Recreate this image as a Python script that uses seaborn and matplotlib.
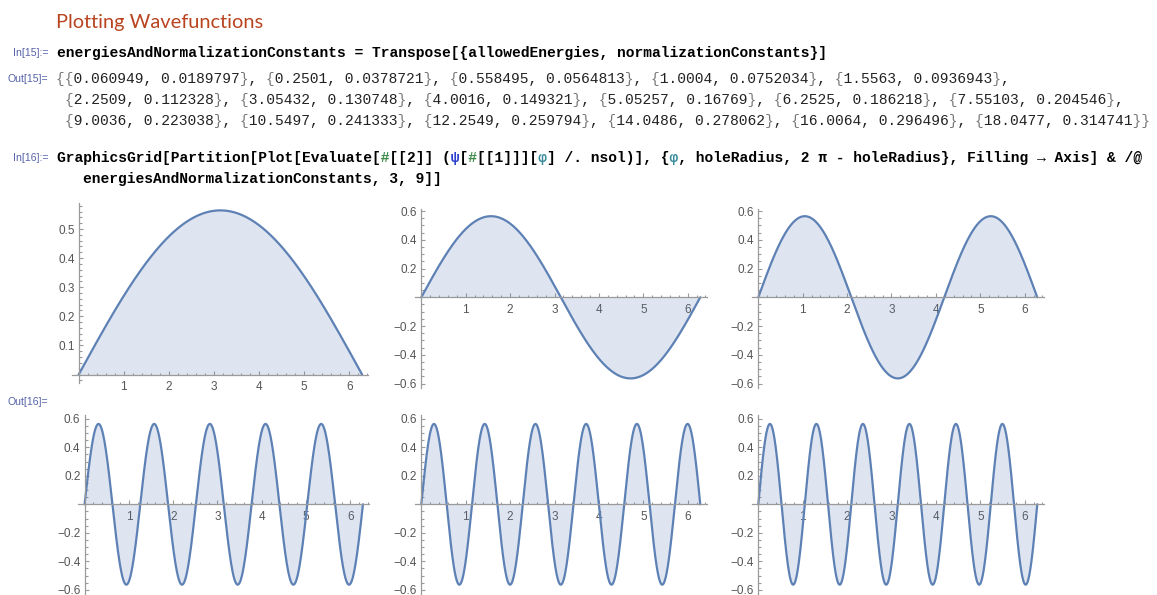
import numpy as np
import matplotlib
matplotlib.use("Agg")
import matplotlib.pyplot as plt
from matplotlib.ticker import MultipleLocator
import seaborn as sns

sns.set_theme(style="white")
plt.rcParams['font.family'] = ['Liberation Sans', 'DejaVu Sans']

W, H = 1157, 595

# values from Out[15]
allowed_energies = [0.060949, 0.2501, 0.558495, 1.0004, 1.5563, 2.2509, 3.05432,
                    4.0016, 5.05257, 6.2525, 7.55103, 9.0036, 10.5497, 12.2549,
                    14.0486, 16.0064, 18.0477]
normalization_constants = [0.0189797, 0.0378721, 0.0564813, 0.0752034, 0.0936943,
                           0.112328, 0.130748, 0.149321, 0.16769, 0.186218, 0.204546,
                           0.223038, 0.241333, 0.259794, 0.278062, 0.296496, 0.314741]
# Partition[..., 3, 9] keeps states 1-3 and 10-12
plotted_states = [0, 1, 2, 9, 10, 11]
peak_amplitude = 0.564
hole_radius = 0.0
x_ticks = [1, 2, 3, 4, 5, 6]
y_ticks_first = [0.1, 0.2, 0.3, 0.4, 0.5]
y_ticks_rest = [-0.6, -0.4, -0.2, 0.2, 0.4, 0.6]

line_color = '#5E81B5'
axis_color = '#9a9a9a'
label_color = '#555555'
prompt_color = '#5562A8'
mono = ['Liberation Mono', 'DejaVu Sans Mono']


def px(x, y):
    return x / W, 1 - y / H


fig = plt.figure(figsize=(W / 100, H / 100), dpi=100)

# --- notebook text ---
title = fig.text(*px(56, 28), "Plotting Wavefunctions", family=['Lato', 'DejaVu Sans'],
                 fontsize=15, color='#B9441F', va='baseline')


def prompt(y, s):
    fig.text(*px(48, y), s, fontsize=7.6, color=prompt_color, ha='right', va='center')


def code_line(x, y, s, colors=None, default='black', weight='normal', size=10.5):
    colors = colors or {}
    groups = {}
    for ch in s:
        groups.setdefault(colors.get(ch, default), None)
    for col in groups:
        masked = ''.join(ch if colors.get(ch, default) == col else ' ' for ch in s)
        fig.text(*px(x, y), masked, family=mono, fontsize=size, color=col,
                 weight=weight, va='baseline')


prompt(53, "In[15]:=")
code_line(57, 57, "energiesAndNormalizationConstants = Transpose[{allowedEnergies, normalizationConstants}]",
          weight='bold')

pairs = ["{%s, %s}" % ('{:.6g}'.format(e), '{:.6g}'.format(c))
         for e, c in zip(allowed_energies, normalization_constants)]
rows = [pairs[0:5], pairs[5:11], pairs[11:]]
out_lines = ["{" + ", ".join(rows[0]) + ",",
             ", ".join(rows[1]) + ",",
             ", ".join(rows[2]) + "}"]
prompt(79, "Out[15]=")
brace = {'{': '#777777', '}': '#777777'}
code_line(56, 83.5, out_lines[0], brace, default='#222222')
code_line(65, 104, out_lines[1], brace, default='#222222')
code_line(65, 124.5, out_lines[2], brace, default='#222222')

prompt(158, "In[16]:=")
in16 = ("GraphicsGrid[Partition[Plot[Evaluate[#[[2]] (\u03c8[#[[1]]][\u03c6] /. nsol)], "
        "{\u03c6, holeRadius, 2 \u03c0 - holeRadius}, Filling \u2192 Axis] & /@")
special = {'#': '#3F8A4A', '\u03c8': '#2B3FD0', '\u03c6': '#3A8C9C'}
code_line(57, 162, in16, special, weight='bold')
code_line(83, 183, "energiesAndNormalizationConstants, 3, 9]]", weight='bold')

prompt(402, "Out[16]=")

# fit title width to reference
fig.canvas.draw()
r = fig.canvas.get_renderer()
wt = title.get_window_extent(r).width
title.set_fontsize(15 * 208 / wt)

# --- panels: (x of phi=0, px per unit, y of psi=0, px per unit, xlim, ylim) ---
panels = [
    (78.7, 45.1, 374.5, 291.0, (-0.155, 6.41), (-0.03, 0.59)),
    (421.3, 44.4, 297.3, 143.8, (-0.14, 6.43), (-0.631, 0.612)),
    (758.3, 44.4, 297.3, 143.8, (-0.14, 6.43), (-0.631, 0.612)),
    (84.6, 44.3, 504.3, 142.5, (-0.14, 6.43), (-0.64, 0.627)),
    (421.3, 44.4, 504.3, 142.5, (-0.14, 6.43), (-0.64, 0.627)),
    (758.3, 44.4, 504.3, 142.5, (-0.14, 6.43), (-0.64, 0.627)),
]

phi = np.linspace(hole_radius, 2 * np.pi - hole_radius, 1200)

for i, (state, geo) in enumerate(zip(plotted_states, panels)):
    x0, xu, y0, yu, xlim, ylim = geo
    left = x0 + xlim[0] * xu
    right = x0 + xlim[1] * xu
    top = y0 - ylim[1] * yu
    bottom = y0 - ylim[0] * yu
    ax = fig.add_axes([left / W, 1 - bottom / H, (right - left) / W, (bottom - top) / H])
    ax.set_facecolor('none')

    mode = round(4 * np.sqrt(allowed_energies[state]))
    psi = peak_amplitude * np.sin(mode * (phi - hole_radius) / 2)
    ax.fill_between(phi, psi, 0, color=line_color, alpha=0.2, lw=0)
    sns.lineplot(x=phi, y=psi, ax=ax, color=line_color, lw=1.6, sort=False)

    ax.set_xlim(xlim)
    ax.set_ylim(ylim)
    for s in ['top', 'right']:
        ax.spines[s].set_visible(False)
    for s in ['left', 'bottom']:
        ax.spines[s].set_position(('data', 0))
        ax.spines[s].set_color(axis_color)
        ax.spines[s].set_linewidth(0.9)

    yt = y_ticks_first if i == 0 else y_ticks_rest
    ax.set_xticks(x_ticks)
    ax.set_xticklabels([str(t) for t in x_ticks])
    ax.set_yticks(yt)
    ax.set_yticklabels([('%.1f' % t).replace('-', '\u2212') for t in yt])
    ax.xaxis.set_minor_locator(MultipleLocator(0.2))
    ax.yaxis.set_minor_locator(MultipleLocator(0.02 if i == 0 else 0.05))
    ax.tick_params(which='both', direction='in', color=axis_color, width=0.8,
                   labelsize=8.5, labelcolor=label_color, bottom=True, left=True)
    ax.tick_params(which='major', length=3.2)
    ax.tick_params(which='minor', length=1.8)
    ax.tick_params(axis='x', which='major', pad=5)
    ax.tick_params(axis='y', which='major', pad=3)
    ax.grid(False)

fig.savefig("out.png", dpi=100)
